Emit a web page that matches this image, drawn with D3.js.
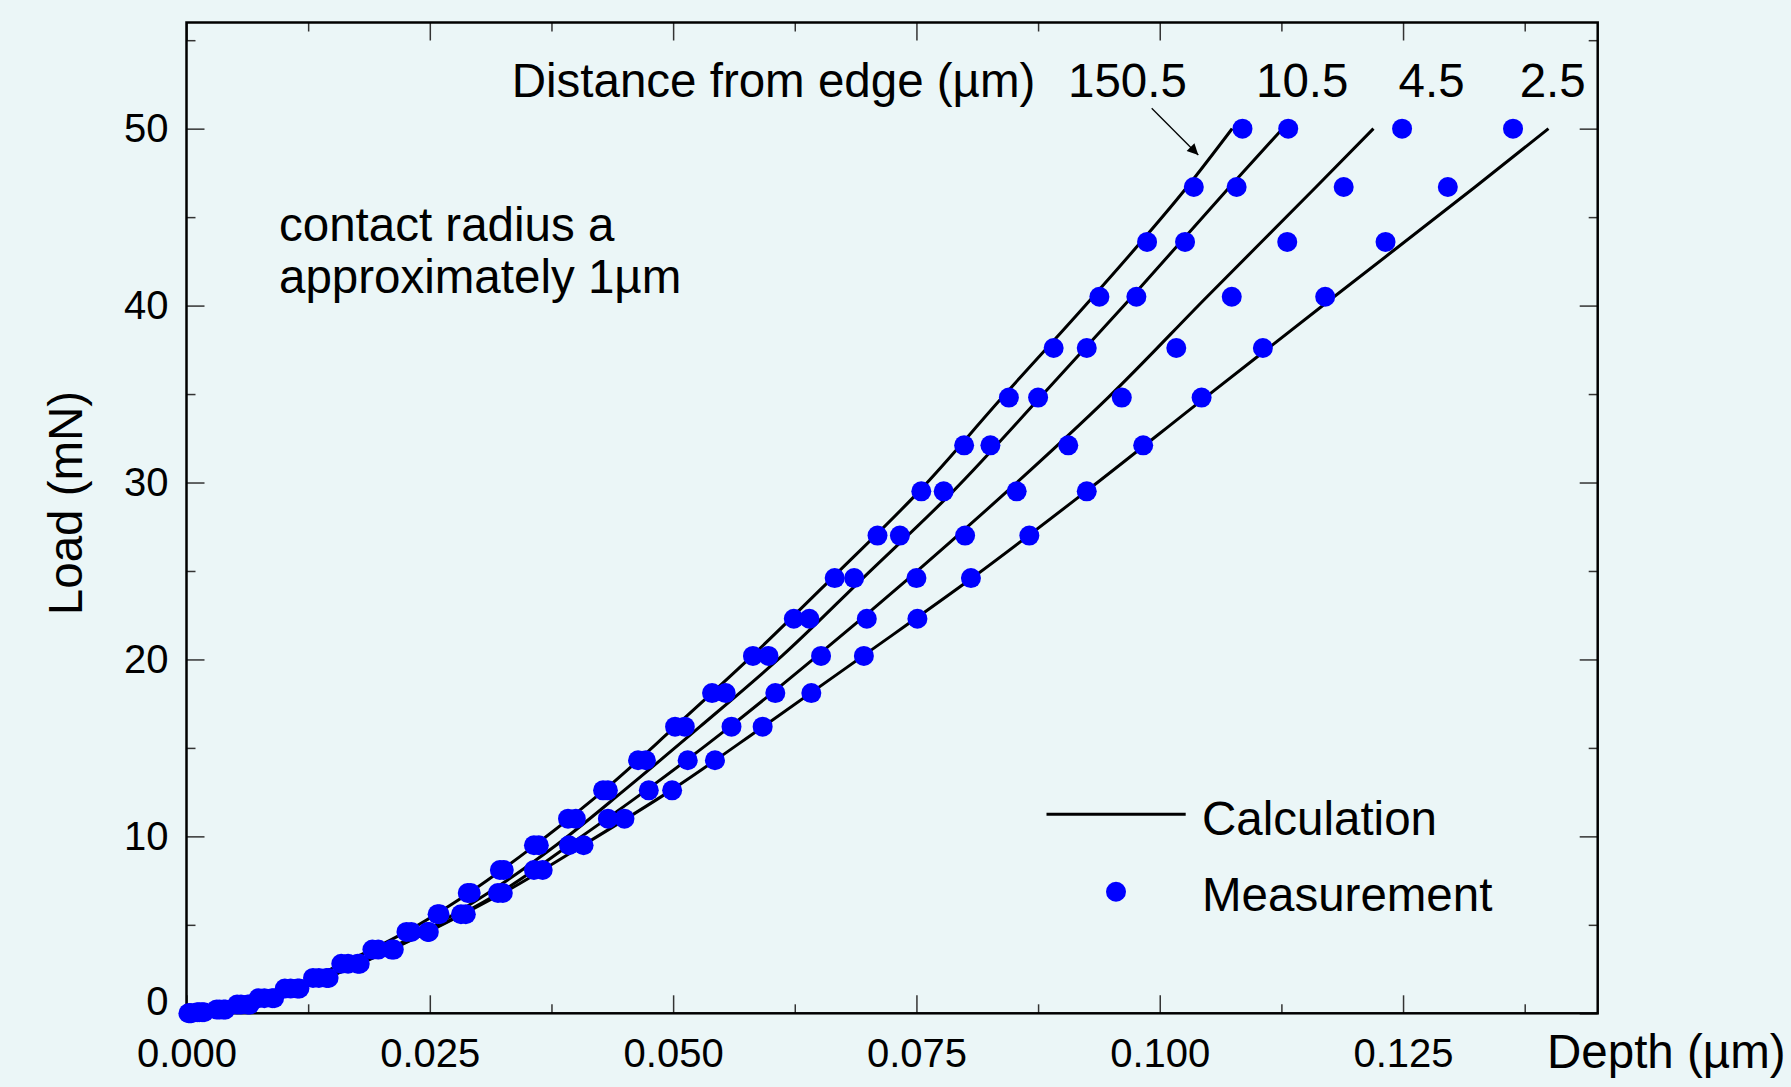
<!DOCTYPE html>
<html>
<head>
<meta charset="utf-8">
<title>Load vs depth</title>
<script src="https://d3js.org/d3.v7.min.js"></script>
<style>
body { margin: 0; background: #ebf6f7; }
svg text { font-family: "Liberation Sans", Arial, Helvetica, sans-serif; fill: #000; }
.tick line { stroke: #333; stroke-width: 1.5px; }
.tick text { font-size: 40px; }
</style>
</head>
<body>
<script>
// load levels of the measurement (mN)
var loads = [50, 46.7, 43.6, 40.5, 37.6, 34.8, 32.1, 29.5, 27.0, 24.6, 22.3, 20.2, 18.1, 16.2, 14.3,
             12.6, 11.0, 9.5, 8.1, 6.8, 5.6, 4.6, 3.6, 2.8, 2.0, 1.4, 0.85, 0.5, 0.22, 0.06, 0];

// measured depth (um) for each distance from edge
var meas150 = [0.1085, 0.1035, 0.0987, 0.0938, 0.0891, 0.0845, 0.0799, 0.0755, 0.0710, 0.0666, 0.0624, 0.0582, 0.0540, 0.0502, 0.0464,
               0.0428, 0.0392, 0.0357, 0.0322, 0.0289, 0.0258, 0.0226, 0.0191, 0.0159, 0.0130, 0.0101, 0.0074, 0.0052, 0.0031, 0.0011, 0.0002];
var meas10 = [0.1132, 0.1079, 0.1026, 0.0976, 0.0925, 0.0875, 0.0826, 0.0778, 0.0733, 0.0686, 0.0640, 0.0598, 0.0554, 0.0512, 0.0472,
              0.0433, 0.0400, 0.0362, 0.0326, 0.0292, 0.0260, 0.0231, 0.0197, 0.0166, 0.0136, 0.0107, 0.0080, 0.0056, 0.0034, 0.0013, 0.0003];
var meas4 = [0.1249, 0.1189, 0.1131, 0.1074, 0.1017, 0.0961, 0.0906, 0.0853, 0.0800, 0.0750, 0.0699, 0.0652, 0.0605, 0.0560, 0.0515,
             0.0475, 0.0433, 0.0393, 0.0357, 0.0320, 0.0282, 0.0248, 0.0211, 0.0176, 0.0144, 0.0114, 0.0088, 0.0063, 0.0038, 0.0016, 0.0004];
var meas2 = [0.1363, 0.1296, 0.1232, 0.1170, 0.1106, 0.1043, 0.0983, 0.0925, 0.0866, 0.0806, 0.0751, 0.0696, 0.0642, 0.0592, 0.0543,
             0.0499, 0.0450, 0.0408, 0.0366, 0.0325, 0.0287, 0.0249, 0.0213, 0.0178, 0.0146, 0.0116, 0.0090, 0.0065, 0.0040, 0.0018, 0.0005];

// calculated curves, sampled at these loads
var calcLoads = [0, 0.5, 1.4, 2.8, 4.6, 6.8, 9.5, 12.6, 16.2, 20.2, 24.6, 29.5, 34.8, 40.5, 46.7, 50];
var calc150 = [0, 0.00539, 0.01022, 0.01598, 0.02255, 0.02903, 0.03581, 0.04290, 0.05020, 0.05811, 0.06633, 0.07527, 0.08380, 0.09315, 0.10281, 0.10744];
var calc10 = [0, 0.00611, 0.01125, 0.01742, 0.02430, 0.03098, 0.03797, 0.04496, 0.05276, 0.06119, 0.06951, 0.07876, 0.08770, 0.09715, 0.10718, 0.11262];
var calc4 = [0, 0.00632, 0.01146, 0.01773, 0.02471, 0.03211, 0.03930, 0.04722, 0.05585, 0.06479, 0.07424, 0.08431, 0.09469, 0.10486, 0.11606, 0.12196];
var calc2 = [0, 0.00642, 0.01156, 0.01783, 0.02482, 0.03252, 0.04074, 0.04978, 0.05924, 0.06951, 0.08071, 0.09243, 0.10466, 0.11791, 0.13240, 0.13994];

var xMajor = [0, 0.025, 0.05, 0.075, 0.1, 0.125];
var xMinor = [0.0125, 0.0375, 0.0625, 0.0875, 0.1125, 0.1375];
var yMajor = [0, 10, 20, 30, 40, 50];
var yMinor = [5, 15, 25, 35, 45, 55];

var distLabels = ["150.5", "10.5", "4.5", "2.5"];

var width = 1791, height = 1087;
var svg = d3.select("body").append("svg")
    .attr("width", width)
    .attr("height", height);

svg.append("rect").attr("width", width).attr("height", height).attr("fill", "#ebf6f7");

var x = d3.scaleLinear().domain([0, 0.145]).range([186.5, 1597.7]);
var y = d3.scaleLinear().domain([0, 56]).range([1013.3, 22.5]);
var x0 = x.range()[0], x1 = x.range()[1], y0 = y.range()[0], y1 = y.range()[1];

// axes, ticks pointing inward
svg.append("g").attr("transform", "translate(0," + y0 + ")")
    .call(d3.axisBottom(x).tickValues(xMajor).tickFormat(d3.format(".3f")).tickSize(-18).tickSizeOuter(0).tickPadding(25));
svg.append("g").attr("transform", "translate(0," + y0 + ")")
    .call(d3.axisBottom(x).tickValues(xMinor).tickFormat("").tickSize(-9).tickSizeOuter(0));
svg.append("g").attr("transform", "translate(0," + y1 + ")")
    .call(d3.axisTop(x).tickValues(xMajor).tickFormat("").tickSize(-18).tickSizeOuter(0));
svg.append("g").attr("transform", "translate(0," + y1 + ")")
    .call(d3.axisTop(x).tickValues(xMinor).tickFormat("").tickSize(-9).tickSizeOuter(0));

var yl = svg.append("g").attr("transform", "translate(" + x0 + ",0)")
    .call(d3.axisLeft(y).tickValues(yMajor).tickSize(-18).tickSizeOuter(0).tickPadding(18));
svg.append("g").attr("transform", "translate(" + x0 + ",0)")
    .call(d3.axisLeft(y).tickValues(yMinor).tickFormat("").tickSize(-9).tickSizeOuter(0));
svg.append("g").attr("transform", "translate(" + x1 + ",0)")
    .call(d3.axisRight(y).tickValues(yMajor).tickFormat("").tickSize(-18).tickSizeOuter(0));
svg.append("g").attr("transform", "translate(" + x1 + ",0)")
    .call(d3.axisRight(y).tickValues(yMinor).tickFormat("").tickSize(-9).tickSizeOuter(0));

svg.selectAll(".domain").remove();
// the 0 label sits a bit higher than its tick
yl.selectAll(".tick text").filter(function(d) { return d === 0; }).attr("y", -12);

svg.append("rect")
    .attr("x", x0).attr("y", y1)
    .attr("width", x1 - x0).attr("height", y0 - y1)
    .attr("fill", "none").attr("stroke", "#000").attr("stroke-width", 2.5);

// axis titles
svg.append("text").attr("x", 1547).attr("y", 1068).attr("font-size", 47.5).text("Depth (µm)");
svg.append("text").attr("transform", "translate(82,503) rotate(-90)")
    .attr("text-anchor", "middle").attr("font-size", 47.5).text("Load (mN)");

// calculated curves
var line = d3.line()
    .x(function(d) { return x(d[0]); })
    .y(function(d) { return y(d[1]); })
    .curve(d3.curveMonotoneY);

[calc150, calc10, calc4, calc2].forEach(function(s) {
    svg.append("path")
        .datum(s.map(function(v, i) { return [v, calcLoads[i]]; }))
        .attr("fill", "none").attr("stroke", "#000").attr("stroke-width", 3)
        .attr("d", line);
});

// annotations
svg.append("text").attr("x", 511.7).attr("y", 97).attr("font-size", 47.5).text("Distance from edge (µm)");
var distX = [1068, 1256, 1398.6, 1519.7];
distLabels.forEach(function(t, i) {
    svg.append("text").attr("x", distX[i]).attr("y", 97).attr("font-size", 47.5).text(t);
});

svg.append("defs").append("marker")
    .attr("id", "head").attr("viewBox", "0 0 10 10")
    .attr("refX", 10).attr("refY", 5)
    .attr("markerWidth", 15).attr("markerHeight", 11)
    .attr("markerUnits", "userSpaceOnUse")
    .attr("orient", "auto")
    .append("path").attr("d", "M0,0L10,5L0,10Z").attr("fill", "#000");
svg.append("line")
    .attr("x1", 1151.7).attr("y1", 108.3).attr("x2", 1198.3).attr("y2", 155)
    .attr("stroke", "#000").attr("stroke-width", 1.3)
    .attr("marker-end", "url(#head)");

svg.append("text").attr("x", 279).attr("y", 241).attr("font-size", 47.5).text("contact radius a");
svg.append("text").attr("x", 279).attr("y", 293).attr("font-size", 47.5).text("approximately 1µm");

// legend
svg.append("line").attr("x1", 1046.5).attr("x2", 1185.7).attr("y1", 814.3).attr("y2", 814.3)
    .attr("stroke", "#000").attr("stroke-width", 3);
svg.append("text").attr("x", 1202).attr("y", 835).attr("font-size", 47.5).text("Calculation");
svg.append("circle").attr("cx", 1116).attr("cy", 891.7).attr("r", 10).attr("fill", "#0000ff");
svg.append("text").attr("x", 1202).attr("y", 911).attr("font-size", 47.5).text("Measurement");

// measured points
[meas150, meas10, meas4, meas2].forEach(function(s) {
    svg.append("g").selectAll("circle")
        .data(s.map(function(v, i) { return [v, loads[i]]; }))
        .enter().append("circle")
        .attr("cx", function(d) { return x(d[0]); })
        .attr("cy", function(d) { return y(d[1]); })
        .attr("r", 10)
        .attr("fill", "#0000ff");
});
</script>
</body>
</html>
